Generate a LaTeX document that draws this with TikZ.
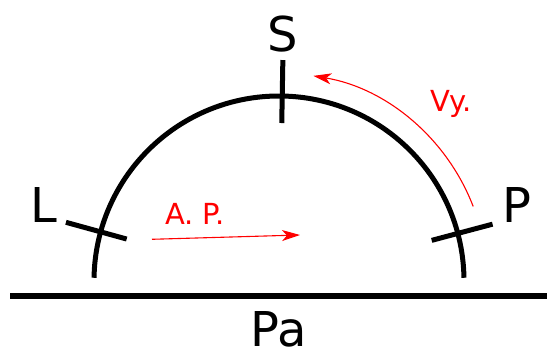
\documentclass[tikz,border=0pt]{standalone}
\usepackage{fontspec}
\setmainfont{DejaVu Sans}
\usetikzlibrary{arrows.meta,calc}
\begin{document}
\begin{tikzpicture}[x=1pt,y=1pt,
  thick/.style={line width=5pt,black},
  ground/.style={line width=6pt,black},
  redarrow/.style={red,line width=1.1pt,-{Stealth[length=18pt,width=11pt,inset=5pt]}},
  biglabel/.style={font=\fontsize{48}{48}\selectfont,anchor=base,inner sep=0pt},
  redlabel/.style={red,font=\fontsize{29}{29}\selectfont,anchor=base,inner sep=0pt}]
\useasboundingbox (0,0) rectangle (547,347);
\coordinate (C) at (279,66);
% ground line
\draw[ground] (10,51.3) -- (550,51.3);
% arc
\draw[thick] ($(C)+(1:185)$) arc[start angle=1,end angle=179,radius=185];
% ticks
\foreach \a in {164.6,89,14.9}{
  \draw[thick] ($(C)+(\a:158)$) -- ($(C)+(\a:221)$);
}
% labels
\node[biglabel] (L) at (44,124) {L};
\node[biglabel] (P) at (517,124) {P};
\node[biglabel] (S) at (283,295) {S};
\node[biglabel] (Pa) at (279,0) {Pa};
\node[redlabel] (AP) at (195,122) {A. P.};
\node[redlabel] (Vy) at (451,235) {Vy.};
% arrows
\coordinate (a1) at (152,107.7);
\coordinate (a2) at (300,112);
\draw[redarrow] (a1) -- (a2);
\coordinate (v1) at ($(C)+(21:208)$);
\draw[redarrow] (v1) arc[start angle=21,end angle=80.5,radius=208];
\end{tikzpicture}
\end{document}
